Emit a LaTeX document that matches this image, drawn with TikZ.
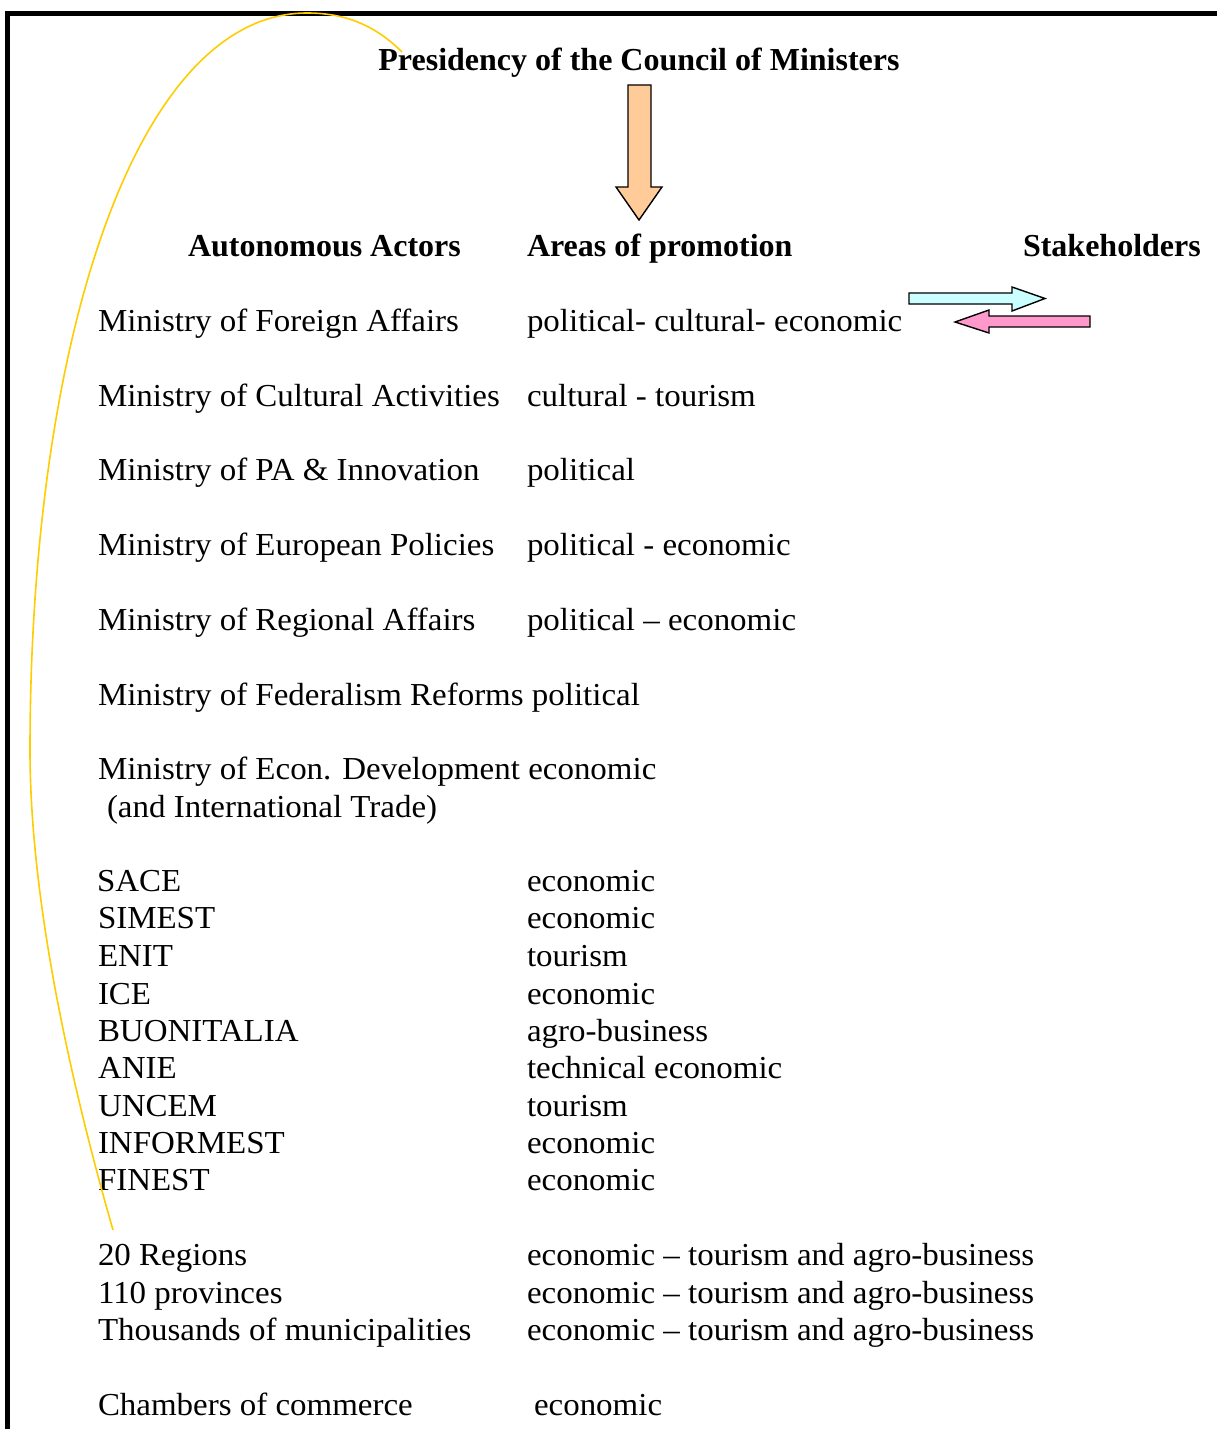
\documentclass[tikz,border=0pt]{standalone}
\usepackage{fontspec}
\setmainfont{Liberation Serif}
\newfontfamily\regfont{Liberation Serif}[FakeStretch=1.03]
\begin{document}
\begin{tikzpicture}[x=0.5pt,y=-0.5pt,
  txt/.style={anchor=base west, inner sep=0pt, outer sep=0pt, font=\fontsize{16}{19}\regfont},
  hdr/.style={anchor=base west, inner sep=0pt, outer sep=0pt, font=\fontsize{16}{19}\selectfont\bfseries},
  border/.style={line width=2.5pt, black},
  curve/.style={draw={rgb,255:red,255;green,204;blue,0}, line width=0.8pt},
  blockarrow/.style={draw=black, line width=0.7pt, line join=miter}]
\definecolor{peach}{RGB}{255,204,153}
\definecolor{icecyan}{RGB}{204,255,255}
\definecolor{rosepink}{RGB}{255,153,204}
\useasboundingbox (0,0) rectangle (1217,1429);
% border
\coordinate (bl) at (7.5,1429);
\coordinate (tl) at (7.5,13.5);
\coordinate (tr) at (1217,13.5);
\draw[border] (bl) -- (tl) -- (tr);
% headers
\node[hdr, anchor=base] (pres) at (639,71) {Presidency of the Council of Ministers};
\node[hdr] (hact) at (188,256) {Autonomous Actors};
\node[hdr] (hareas) at (527,256) {Areas of promotion};
\node[hdr] (hstake) at (1023,256) {Stakeholders};
% rows
\node[txt] (a1) at (98,331) {Ministry of Foreign Affairs};
\node[txt] (b1) at (527,331) {political- cultural- economic};
\node[txt] (a2) at (98,406) {Ministry of Cultural Activities};
\node[txt] (b2) at (527,406) {cultural - tourism};
\node[txt] (a3) at (98,480) {Ministry of PA \& Innovation};
\node[txt] (b3) at (527,480) {political};
\node[txt] (a4) at (98,555) {Ministry of European Policies};
\node[txt] (b4) at (527,555) {political - economic};
\node[txt] (a5) at (98,630) {Ministry of Regional Affairs};
\node[txt] (b5) at (527,630) {political – economic};
\node[txt] (a6) at (98,705) {Ministry of Federalism Reforms political};
\node[txt] (a7) at (98,779) {Ministry of Econ. Development economic};
\node[txt] (a7b) at (107,817) {(and International Trade)};
\node[txt] (a8) at (97,891) {SACE};
\node[txt] (b8) at (527,891) {economic};
\node[txt] (a9) at (98,928) {SIMEST};
\node[txt] (b9) at (527,928) {economic};
\node[txt] (a10) at (98,966) {ENIT};
\node[txt] (b10) at (527,966) {tourism};
\node[txt] (a11) at (98,1004) {ICE};
\node[txt] (b11) at (527,1004) {economic};
\node[txt] (a12) at (98,1041) {BUONITALIA};
\node[txt] (b12) at (527,1041) {agro-business};
\node[txt] (a13) at (98,1078) {ANIE};
\node[txt] (b13) at (527,1078) {technical economic};
\node[txt] (a14) at (98,1116) {UNCEM};
\node[txt] (b14) at (527,1116) {tourism};
\node[txt] (a15) at (98,1153) {INFORMEST};
\node[txt] (b15) at (527,1153) {economic};
\node[txt] (a16) at (98,1190) {FINEST};
\node[txt] (b16) at (527,1190) {economic};
\node[txt] (a17) at (98,1265) {20 Regions};
\node[txt] (b17) at (527,1265) {economic – tourism and agro-business};
\node[txt] (a18) at (98,1303) {110 provinces};
\node[txt] (b18) at (527,1303) {economic – tourism and agro-business};
\node[txt] (a19) at (98,1340) {Thousands of municipalities};
\node[txt] (b19) at (527,1340) {economic – tourism and agro-business};
\node[txt] (a20) at (98,1415) {Chambers of commerce};
\node[txt] (b20) at (534,1415) {economic};
% orange down arrow
\draw[blockarrow, fill=peach] (628,85) -- (651,85) -- (651,187) -- (662,187) -- (639,220) -- (616,187) -- (628,187) -- cycle;
% cyan right arrow
\draw[blockarrow, fill=icecyan] (909,293) -- (1012,293) -- (1012,287) -- (1045,298.5) -- (1012,311) -- (1012,304) -- (909,304) -- cycle;
% pink left arrow
\draw[blockarrow, fill=rosepink] (1090,316) -- (989,316) -- (989,310) -- (955,322) -- (989,333) -- (989,327) -- (1090,327) -- cycle;
% yellow curve
\coordinate (cstart) at (402,52);
\coordinate (ctop) at (307,13);
\coordinate (cleft) at (30,750);
\coordinate (cend) at (113,1230);
\draw[curve] (cstart) .. controls (372,22) and (340,13) .. (ctop)
  .. controls (135,13) and (30,343) .. (cleft)
  .. controls (30,900) and (70,1080) .. (cend);
\end{tikzpicture}
\end{document}
